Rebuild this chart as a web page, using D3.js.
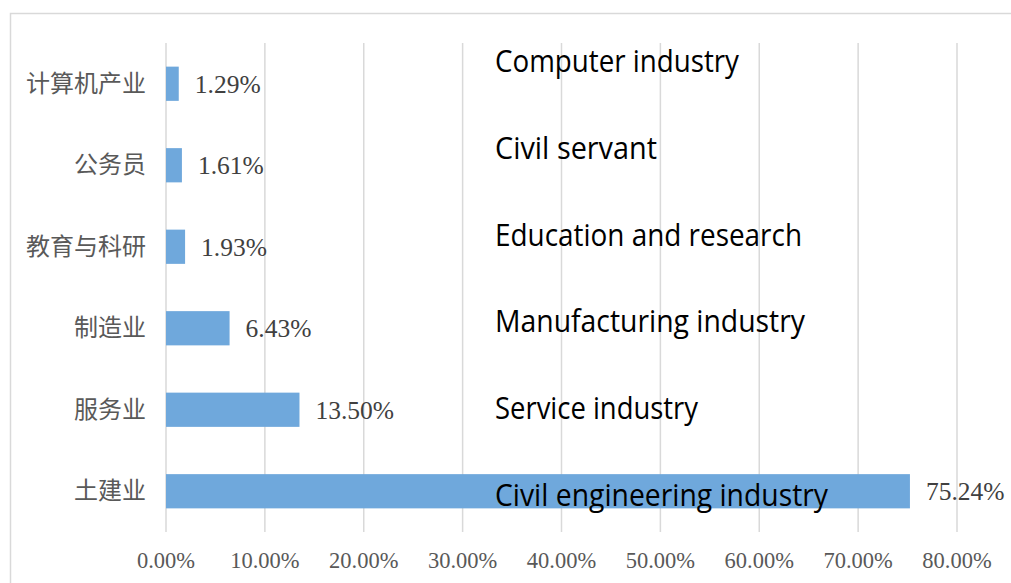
<!DOCTYPE html>
<html>
<head>
<meta charset="utf-8">
<script src="https://cdn.jsdelivr.net/npm/d3@7"></script>
<style>
  html, body { margin: 0; padding: 0; background: #ffffff; }
  svg { display: block; }
</style>
</head>
<body>
<svg id="chart" width="1011" height="583"></svg>
<script>
// Employment destination shares (top to bottom)
const categories = ["计算机产业", "公务员", "教育与科研", "制造业", "服务业", "土建业"];
const shares = [1.29, 1.61, 1.93, 6.43, 13.50, 75.24];
const englishNames = [
  "Computer industry",
  "Civil servant",
  "Education and research",
  "Manufacturing industry",
  "Service industry",
  "Civil engineering industry"
];
const englishWidths = [244, 162, 307, 310, 203, 333];
const xTicks = [0, 10, 20, 30, 40, 50, 60, 70, 80];

const svg = d3.select("#chart");
const W = 1011, H = 583;

// outer chart frame (runs past the right and bottom edges)
svg.append("rect")
  .attr("x", 10.5).attr("y", 13.5)
  .attr("width", W + 20).attr("height", H + 20)
  .attr("fill", "none")
  .attr("stroke", "#d9d9d9")
  .attr("stroke-width", 1.5);

const plot = { left: 166, right: 957, top: 43, bottom: 532 };

const x = d3.scaleLinear().domain([0, 80]).range([plot.left, plot.right]);
const y = d3.scaleBand()
  .domain(categories)
  .range([plot.top, plot.bottom])
  .paddingInner(0.58)
  .paddingOuter(0.29);

// vertical gridlines
svg.append("g")
  .selectAll("line")
  .data(xTicks)
  .join("line")
  .attr("x1", d => x(d)).attr("x2", d => x(d))
  .attr("y1", plot.top).attr("y2", plot.bottom)
  .attr("stroke", "#d9d9d9")
  .attr("stroke-width", 1.5);

// x tick labels
svg.append("g")
  .selectAll("text")
  .data(xTicks)
  .join("text")
  .attr("x", d => x(d))
  .attr("y", 568)
  .attr("text-anchor", "middle")
  .attr("font-family", "'Liberation Serif', 'Times New Roman', serif")
  .attr("font-size", 22.5)
  .attr("fill", "#595959")
  .text(d => d3.format(".2f")(d) + "%");

// bars
svg.append("g")
  .selectAll("rect")
  .data(categories)
  .join("rect")
  .attr("x", x(0))
  .attr("y", d => y(d))
  .attr("width", (d, i) => x(shares[i]) - x(0))
  .attr("height", y.bandwidth())
  .attr("fill", "#6fa8dc");

// category labels
svg.append("g")
  .selectAll("text")
  .data(categories)
  .join("text")
  .attr("x", plot.left - 20)
  .attr("y", d => y(d) + y.bandwidth() / 2 + 8)
  .attr("text-anchor", "end")
  .attr("font-family", "'Noto Sans CJK SC', sans-serif")
  .attr("font-size", 24)
  .attr("fill", "#595959")
  .text(d => d);

// value labels
svg.append("g")
  .selectAll("text")
  .data(categories)
  .join("text")
  .attr("x", (d, i) => x(shares[i]) + 16)
  .attr("y", d => y(d) + y.bandwidth() / 2 + 9)
  .attr("font-family", "'Liberation Serif', 'Times New Roman', serif")
  .attr("font-size", 25.5)
  .attr("fill", "#404040")
  .text((d, i) => d3.format(".2f")(shares[i]) + "%");

// English translations
const englishY = d3.scaleLinear().domain([0, 5]).range([72, 506]);
svg.append("g")
  .selectAll("text")
  .data(englishNames)
  .join("text")
  .attr("x", 495)
  .attr("y", (d, i) => englishY(i))
  .attr("font-family", "'Open Sans', sans-serif")
  .attr("font-size", 31)
  .attr("fill", "#000000")
  .attr("textLength", (d, i) => englishWidths[i])
  .attr("lengthAdjust", "spacingAndGlyphs")
  .text(d => d);
</script>
</body>
</html>
